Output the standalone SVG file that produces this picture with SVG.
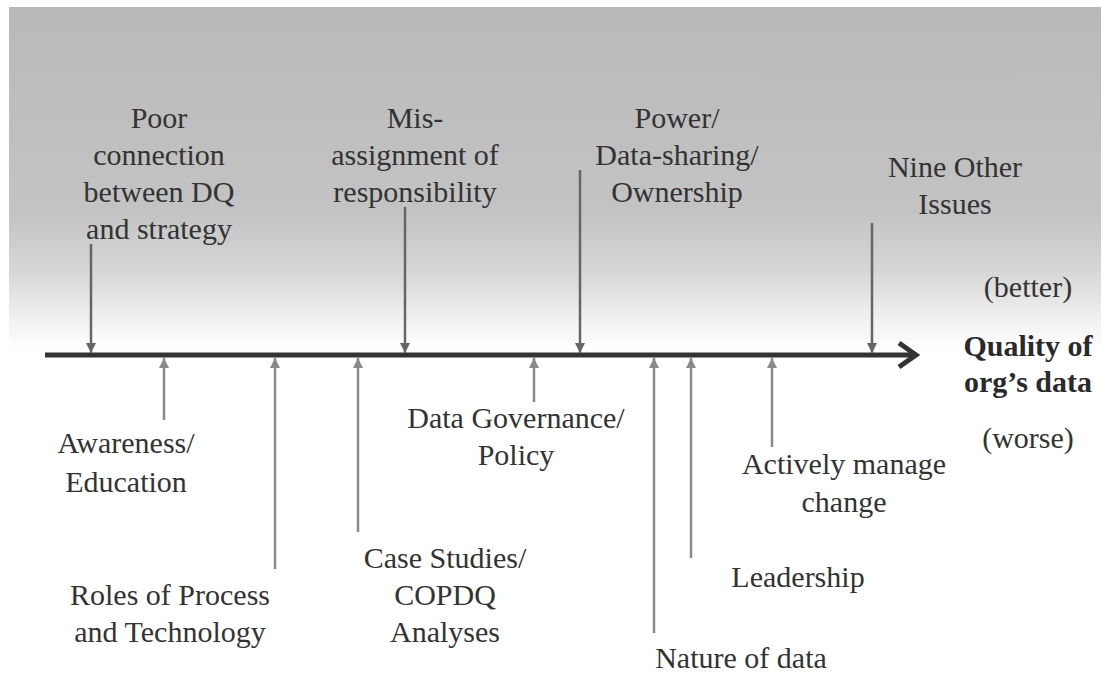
<svg xmlns="http://www.w3.org/2000/svg" width="1101" height="673" viewBox="0 0 1101 673">
  <defs>
    <linearGradient id="shade" x1="0" y1="0" x2="0" y2="1">
      <stop offset="0" stop-color="#b9b9b9"/>
      <stop offset="0.6" stop-color="#c3c3c3"/>
      <stop offset="0.78" stop-color="#d8d8d8"/>
      <stop offset="0.9" stop-color="#efefef"/>
      <stop offset="1" stop-color="#ffffff"/>
    </linearGradient>
    <marker id="headDown" viewBox="0 0 10 10" refX="10" refY="5" markerWidth="10" markerHeight="10" markerUnits="userSpaceOnUse" orient="auto">
      <path d="M0,0 L10,5 L0,10 z" fill="#666"/>
    </marker>
    <marker id="headUp" viewBox="0 0 10 10" refX="10" refY="5" markerWidth="10" markerHeight="10" markerUnits="userSpaceOnUse" orient="auto">
      <path d="M0,0 L10,5 L0,10 z" fill="#8a8a8a"/>
    </marker>
  </defs>
  <style>
    text { font-family: "Liberation Serif", "Times New Roman", serif; font-size: 30px; fill: #333; text-anchor: middle; }
    .bold { font-weight: bold; fill: #2a2a2a; }
    .down { stroke: #666; stroke-width: 2.5; fill: none; marker-end: url(#headDown); }
    .up { stroke: #8a8a8a; stroke-width: 2.5; fill: none; marker-end: url(#headUp); }
    .axis { stroke: #333; stroke-width: 5; fill: none; }
  </style>

  <!-- shaded backdrop behind the upper half -->
  <rect x="0" y="0" width="1101" height="673" fill="#ffffff"/>
  <rect x="9" y="7" width="1092" height="343" fill="url(#shade)"/>

  <!-- connectors: main axis and force arrows -->
  <g id="connectors">
    <line class="axis" x1="45" y1="355" x2="914" y2="355"/>
    <polyline class="axis" points="899,343 916,355 899,367" stroke-linejoin="miter"/>

    <!-- restraining forces (from above) -->
    <line class="down" x1="91" y1="244" x2="91" y2="353"/>
    <line class="down" x1="405" y1="207" x2="405" y2="353"/>
    <line class="down" x1="580" y1="170" x2="580" y2="353"/>
    <line class="down" x1="872" y1="223" x2="872" y2="353"/>

    <!-- driving forces (from below) -->
    <line class="up" x1="164" y1="420" x2="164" y2="358"/>
    <line class="up" x1="275" y1="569" x2="275" y2="358"/>
    <line class="up" x1="358" y1="532" x2="358" y2="358"/>
    <line class="up" x1="534" y1="402" x2="534" y2="358"/>
    <line class="up" x1="654" y1="633" x2="654" y2="358"/>
    <line class="up" x1="691" y1="558" x2="691" y2="358"/>
    <line class="up" x1="772" y1="447" x2="772" y2="358"/>
  </g>

  <g id="poor-connection">
    <text x="159" y="128">Poor</text>
    <text x="159" y="165">connection</text>
    <text x="159" y="202">between DQ</text>
    <text x="159" y="239">and strategy</text>
  </g>
  <g id="misassignment">
    <text x="415" y="128">Mis-</text>
    <text x="415" y="165">assignment of</text>
    <text x="415" y="202">responsibility</text>
  </g>
  <g id="power">
    <text x="677" y="128">Power/</text>
    <text x="677" y="165">Data-sharing/</text>
    <text x="677" y="202">Ownership</text>
  </g>
  <g id="nine-other">
    <text x="955" y="177">Nine Other</text>
    <text x="955" y="214">Issues</text>
  </g>
  <g id="outcome">
    <text x="1028" y="297">(better)</text>
    <text class="bold" x="1028" y="356">Quality of</text>
    <text class="bold" x="1028" y="392">org’s data</text>
    <text x="1028" y="448">(worse)</text>
  </g>
  <g id="awareness">
    <text x="126" y="453">Awareness/</text>
    <text x="126" y="492">Education</text>
  </g>
  <g id="roles">
    <text x="170" y="605">Roles of Process</text>
    <text x="170" y="642">and Technology</text>
  </g>
  <g id="case-studies">
    <text x="445" y="568">Case Studies/</text>
    <text x="445" y="605">COPDQ</text>
    <text x="445" y="642">Analyses</text>
  </g>
  <g id="governance">
    <text x="516" y="428">Data Governance/</text>
    <text x="516" y="465">Policy</text>
  </g>
  <g id="nature">
    <text x="741" y="668">Nature of data</text>
  </g>
  <g id="leadership">
    <text x="798" y="587">Leadership</text>
  </g>
  <g id="change">
    <text x="844" y="474">Actively manage</text>
    <text x="844" y="512">change</text>
  </g>
</svg>
